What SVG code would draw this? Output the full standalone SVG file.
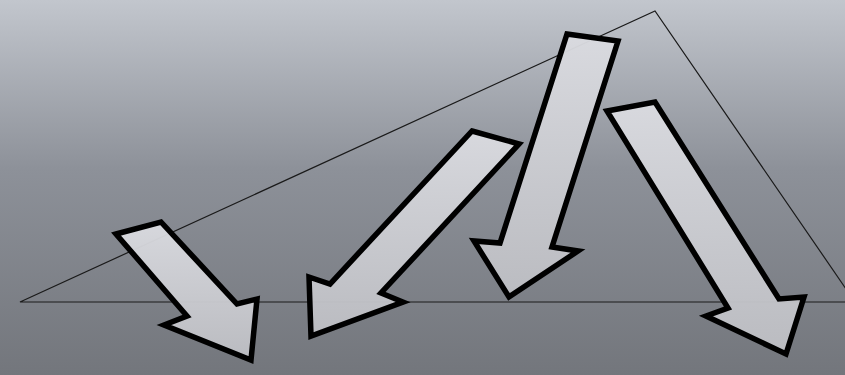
<svg xmlns="http://www.w3.org/2000/svg" width="845" height="375" viewBox="0 0 845 375">
<defs>
<linearGradient id="bg" x1="0" y1="0" x2="0" y2="1">
<stop offset="0" stop-color="#c2c6cd"/>
<stop offset="0.45" stop-color="#8d9199"/>
<stop offset="1" stop-color="#73767c"/>
</linearGradient>
<linearGradient id="af" x1="0" y1="0" x2="0" y2="1">
<stop offset="0" stop-color="#dadbe0"/>
<stop offset="1" stop-color="#bdbec3"/>
</linearGradient>
<style>
.arrow{fill:url(#af);fill-opacity:0.96;stroke:#000;stroke-width:5.5;stroke-linejoin:miter}
.tri{fill:none;stroke:#1a1a1a;stroke-width:1.2}
</style>
</defs>
<rect width="845" height="375" fill="url(#bg)"/>
<g id="triangle">
<polygon class="tri" points="20,302 655,11 855,302"/>
</g>
<g id="connectors">
<g id="arrow1"><polygon class="arrow" points="116,234 161,222 237,304 257,299 251,360 164,325 187,316"/></g>
<g id="arrow2"><polygon class="arrow" points="472,131 519,144 381,293 403,302 311,336 309,277 330,284"/></g>
<g id="arrow3"><polygon class="arrow" points="567,34 618,41 552,247 578,251 509,297 474,241 500,243"/></g>
<g id="arrow4"><polygon class="arrow" points="607,111 655,102 779,299 804,297 786,354 706,316 728,308"/></g>
</g>
</svg>
